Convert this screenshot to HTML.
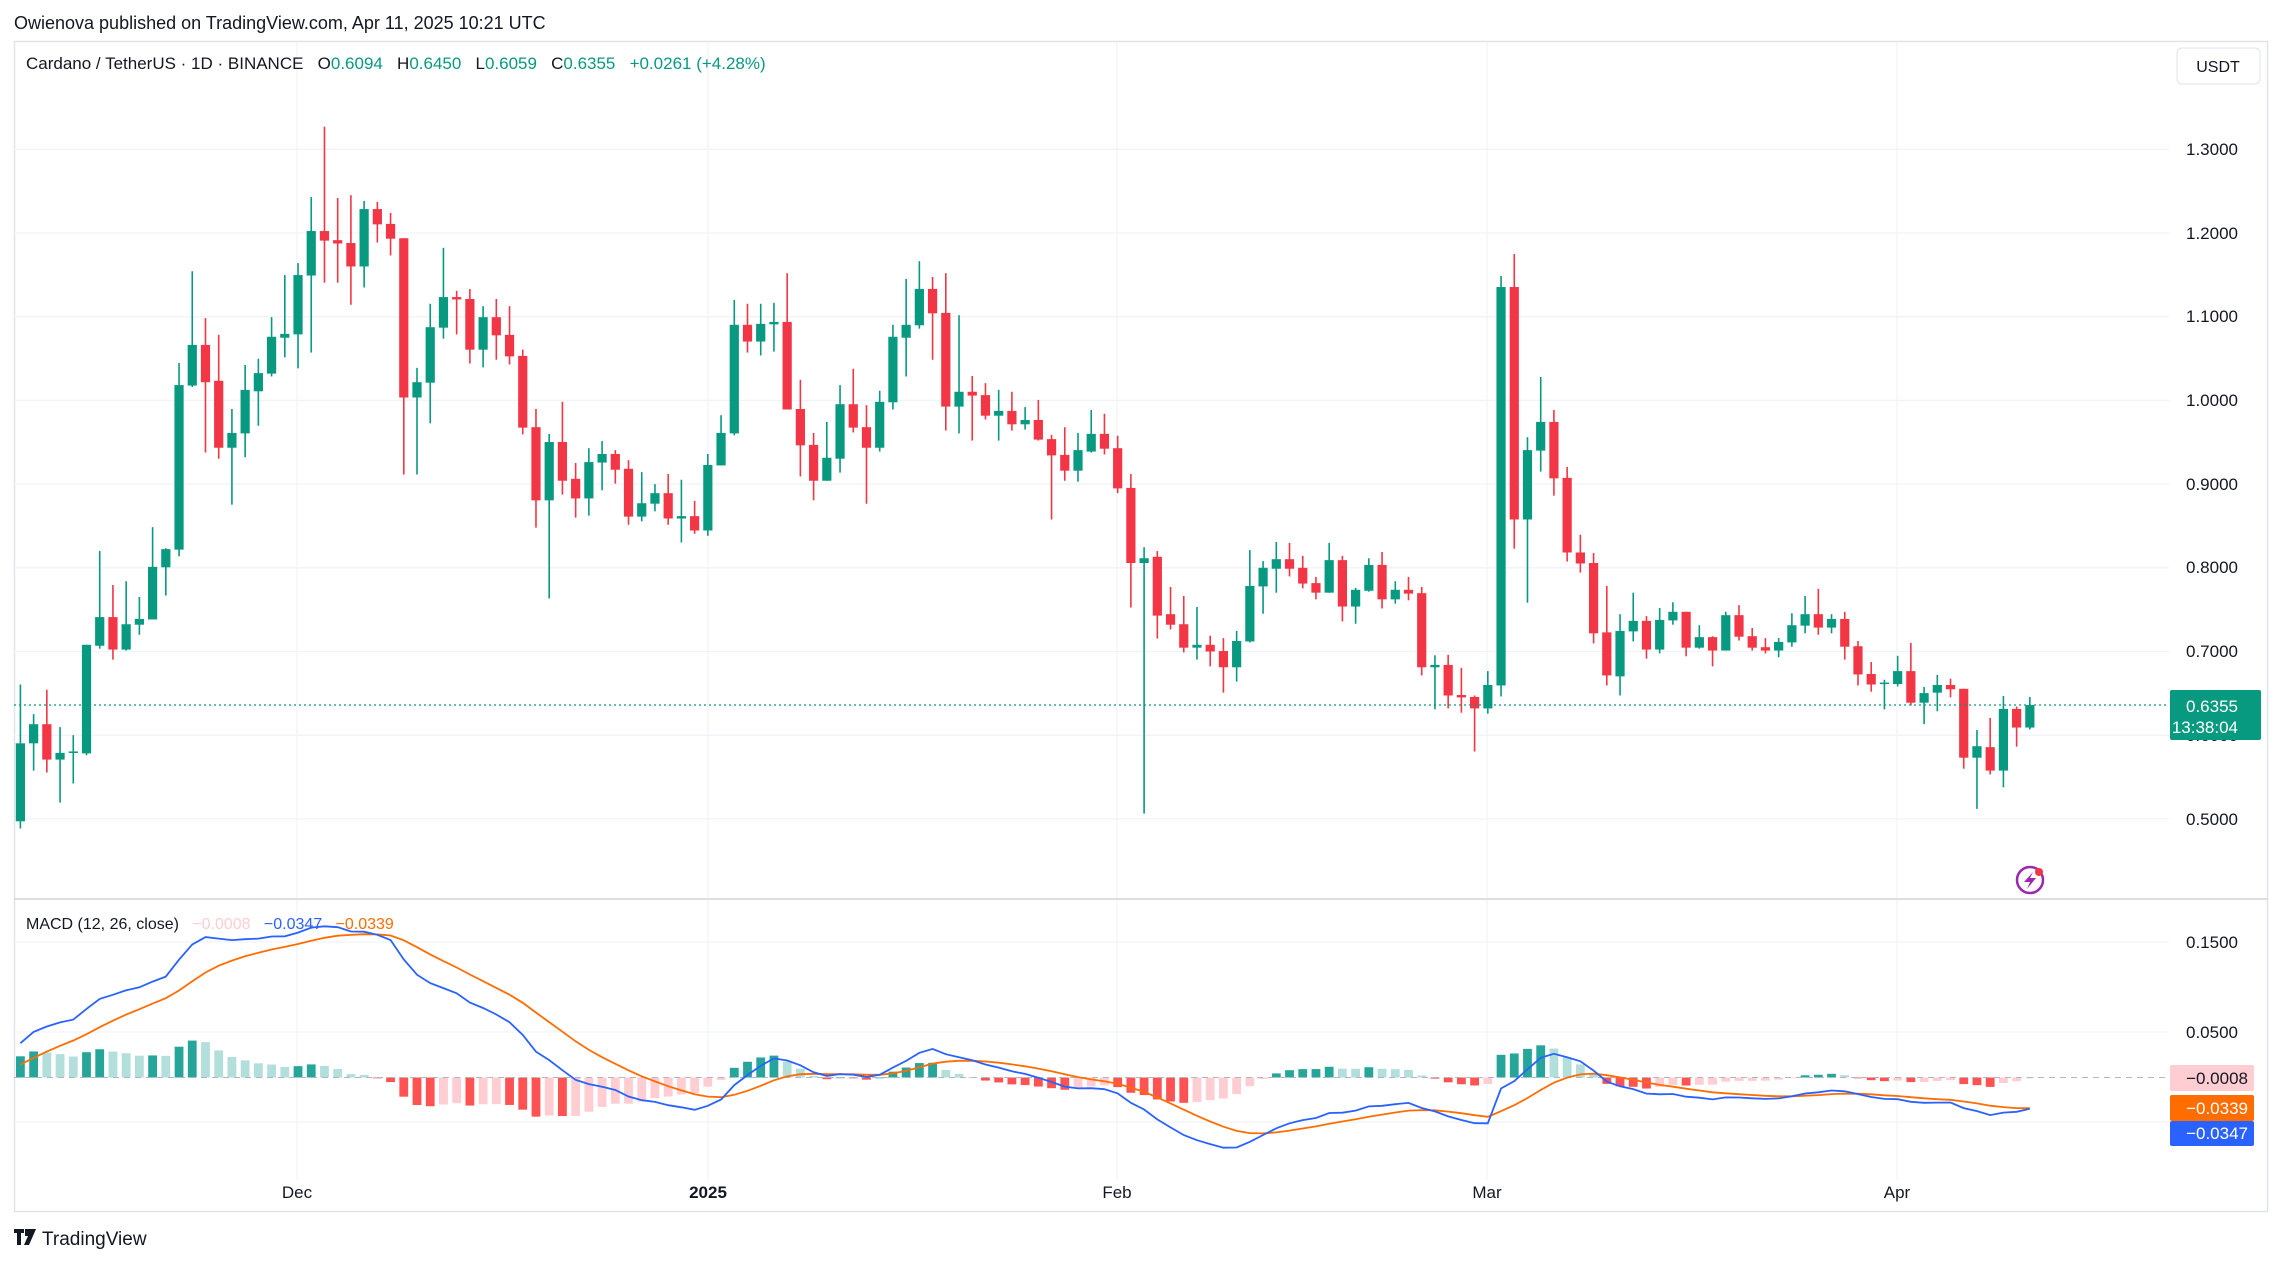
<!DOCTYPE html>
<html><head><meta charset="utf-8">
<style>
html,body{margin:0;padding:0;background:#fff;}
body{width:2283px;height:1265px;overflow:hidden;font-family:"Liberation Sans","DejaVu Sans",sans-serif;}
svg text{font-family:"Liberation Sans","DejaVu Sans",sans-serif;}
</style></head>
<body>
<svg id="s" width="2283" height="1265" viewBox="0 0 2283 1265" xmlns="http://www.w3.org/2000/svg">
<rect width="2283" height="1265" fill="#fff"/>
<text x="14" y="29" font-size="18" fill="#131722">Owienova published on TradingView.com, Apr 11, 2025 10:21 UTC</text>
<rect x="14.5" y="41.5" width="2253" height="1170" fill="none" stroke="#e0e3eb" stroke-width="1.5"/>
<g id="grid" stroke="#f0f3fa" stroke-width="1.3"></g>
<line x1="14" y1="899" x2="2268" y2="899" stroke="#d1d4dc" stroke-width="1.5"/>
<g id="hist"></g>
<line x1="14" y1="1077.5" x2="2169" y2="1077.5" stroke="#b2b5be" stroke-width="1" stroke-dasharray="6,5"/>
<g id="lines"></g>
<g id="candles"></g>
<line x1="14" y1="705" x2="2169" y2="705" stroke="#089981" stroke-width="1.2" stroke-dasharray="2,3"/>
<text x="26" y="69" font-size="17" fill="#131722" xml:space="preserve">Cardano / TetherUS · 1D · BINANCE   O<tspan fill="#089981">0.6094</tspan>   H<tspan fill="#089981">0.6450</tspan>   L<tspan fill="#089981">0.6059</tspan>   C<tspan fill="#089981">0.6355</tspan>   <tspan fill="#089981">+0.0261 (+4.28%)</tspan></text>
<text x="26" y="929" font-size="16" fill="#131722" xml:space="preserve">MACD (12, 26, close)   <tspan fill="#ffcdd2">−0.0008</tspan>   <tspan fill="#2962ff">−0.0347</tspan>   <tspan fill="#ff6d00">−0.0339</tspan></text>
<rect x="2177" y="48" width="83" height="36" rx="5" fill="#fff" stroke="#e0e3eb"/>
<text x="2218" y="72" font-size="16" fill="#131722" text-anchor="middle">USDT</text>
<g font-size="17" fill="#131722" text-anchor="end">
<text x="2238" y="155">1.3000</text><text x="2238" y="239">1.2000</text><text x="2238" y="322">1.1000</text>
<text x="2238" y="406">1.0000</text><text x="2238" y="490">0.9000</text><text x="2238" y="573">0.8000</text>
<text x="2238" y="657">0.7000</text><text x="2238" y="741">0.6000</text><text x="2238" y="825">0.5000</text>
<text x="2238" y="948">0.1500</text><text x="2238" y="1038">0.0500</text>
</g>
<rect x="2170" y="690" width="91" height="50" rx="2" fill="#089981"/>
<text x="2238" y="712" font-size="17" fill="#fff" text-anchor="end">0.6355</text>
<text x="2238" y="733" font-size="17" fill="#fff" text-anchor="end">13:38:04</text>
<rect x="2170" y="1065" width="84" height="26" rx="2" fill="#ffcdd2"/>
<text x="2248" y="1084" font-size="17" fill="#131722" text-anchor="end">−0.0008</text>
<rect x="2170" y="1095" width="84" height="26" rx="2" fill="#ff6d00"/>
<text x="2248" y="1114" font-size="17" fill="#fff" text-anchor="end">−0.0339</text>
<rect x="2170" y="1121" width="84" height="25" rx="2" fill="#2962ff"/>
<text x="2248" y="1139" font-size="17" fill="#fff" text-anchor="end">−0.0347</text>
<g font-size="17" fill="#131722" text-anchor="middle">
<text x="297" y="1198">Dec</text><text x="708" y="1198" font-weight="bold">2025</text>
<text x="1117" y="1198">Feb</text><text x="1487" y="1198">Mar</text><text x="1897" y="1198">Apr</text>
</g>
<circle cx="2030" cy="880" r="13" fill="none" stroke="#9c27b0" stroke-width="2.5"/>
<path d="M2033 872 L2024 882 L2030 882 L2027 889 L2036 878 L2030 878 Z" fill="#9c27b0"/>
<circle cx="2039" cy="872" r="4" fill="#f23645"/>
<g fill="#131722"><rect x="14" y="1229" width="10" height="4"/><rect x="17" y="1229" width="4" height="16"/><polygon points="25,1229 36,1229 29,1245 24,1245 28,1236 25,1236"/><circle cx="29" cy="1232" r="2.5"/></g>
<text x="42" y="1245" font-size="19" fill="#131722">TradingView</text>
</svg>
<script>
const C=[
['g',1345,1508,1222,1523],['g',1305,1345,1284,1402],['r',1305,1379,1233,1406],['g',1365,1379,1311,1469],['g',1362,1365,1328,1429],
['g',1139,1366,1139,1370],['g',1081,1141,943,1147],['r',1081,1149,1014,1170],['g',1096,1149,1006,1151],['g',1085,1097,1039,1118],
['g',976,1086,893,1086],['g',939,977,937,1036],['g',596,940,550,954],['g',512,597,358,600],['r',512,590,456,737],
['r',587,727,491,750],['g',696,727,646,846],['g',606,697,554,747],['g',571,609,541,681],['g',495,572,454,578],
['g',489,497,366,538],['g',366,490,341,561],['g',274,367,203,528],['r',274,294,56,382],['r',293,300,205,382],
['r',299,348,199,428],['g',228,348,211,392],['r',228,260,213,298],['r',259,290,236,325],['r',289,622,289,783],
['g',590,622,560,783],['g',475,591,426,676],['g',412,476,309,499],['r',412,417,399,490],['r',416,522,395,551],
['g',454,522,431,559],['r',454,492,416,543],['r',491,536,431,553],['r',535,685,522,699],['r',684,837,646,894],
['g',715,837,698,1042],['r',715,796,631,825],['r',792,833,759,873],
['g',757,833,728,869],['g',740,758,713,816],['r',740,773,732,802],['r',771,871,753,888],['g',843,871,778,881],
['g',822,844,803,860],['r',822,875,782,888],['g',870,875,794,925],['r',870,900,838,907],['g',763,900,740,911],
['g',696,764,659,764],['g',470,697,418,701],['r',470,505,426,528],['g',468,505,426,534],['g',464,469,424,526],
['r',464,647,362,647],['r',646,722,585,787],['r',721,796,696,837],['g',748,796,673,796],['g',636,750,596,779],
['r',636,685,562,695],['r',684,727,638,844],['g',631,727,608,735],['g',495,632,470,647],['g',470,497,374,578],
['g',395,471,337,478],['r',395,446,370,543],['r',445,641,362,691],['g',610,641,450,697],['r',610,618,577,712],
['r',617,660,592,668],['g',650,660,606,712],['r',650,678,610,691],['g',669,678,642,689],['r',669,710,627,712],
['r',709,743,700,877],['r',742,775,684,796],['g',732,775,696,798],['g',698,735,648,737],['r',698,729,656,741],
['r',728,812,702,822],['r',811,968,782,1061],
['g',958,968,935,1492],['r',955,1078,943,1126],['r',1075,1097,1018,1107],['r',1096,1145,1037,1155],['g',1139,1145,1060,1170],
['r',1139,1153,1120,1184],['r',1152,1186,1125,1239],['g',1131,1186,1110,1216],['g',1016,1132,941,1134],['g',978,1017,964,1074],
['g',960,980,924,1030],['r',960,980,926,996],['r',978,1011,953,1021],['r',1010,1030,997,1044],['g',962,1030,926,1030],
['r',962,1059,953,1090],['g',1024,1059,1020,1095],['g',972,1026,958,1028],['r',972,1044,945,1063],['g',1024,1044,1006,1053],
['r',1024,1032,997,1046],['r',1031,1186,1018,1203],['g',1181,1186,1161,1274],['r',1181,1245,1160,1272],['r',1244,1249,1187,1281],
['r',1248,1272,1245,1362],['g',1223,1272,1194,1283],['g',391,1224,368,1247],['r',391,877,322,938],['g',732,877,705,1051],
['g',673,733,579,777],['r',673,791,648,827],['r',790,946,767,965],['r',946,969,909,988],['r',968,1115,947,1136],
['r',1113,1203,1016,1224],['g',1110,1205,1075,1245],['g',1089,1111,1030,1132],['r',1089,1149,1079,1168],['g',1087,1149,1062,1157],
['g',1070,1088,1050,1097],['r',1070,1145,1070,1163],
['g',1123,1145,1098,1147],['r',1123,1151,1121,1184],['g',1077,1151,1070,1151],['r',1077,1122,1056,1130],['r',1121,1145,1104,1151],
['r',1144,1151,1125,1157],['g',1133,1151,1125,1165],['g',1098,1134,1073,1143],['g',1075,1099,1037,1115],['r',1075,1103,1022,1118],
['g',1085,1103,1075,1115],['r',1085,1143,1070,1170],['r',1142,1201,1131,1224],['r',1200,1222,1175,1237],['g',1218,1221,1212,1274],
['g',1194,1221,1162,1226],['r',1194,1260,1135,1266],['g',1240,1260,1227,1305],['g',1223,1239,1202,1278],['r',1223,1232,1210,1249],
['r',1231,1375,1231,1398],['g',1351,1375,1317,1482],['r',1353,1402,1292,1410],['g',1273,1402,1246,1437],['r',1273,1312,1268,1352],
['g',1265,1312,1248,1316]];
const NS="http://www.w3.org/2000/svg";
function el(p,t,a){const e=document.createElementNS(NS,t);for(const k in a)e.setAttribute(k,a[k]);p.appendChild(e);return e;}
const Y=z=>100+z*750/1568, X=i=>20.4+i*13.22;
const G=document.getElementById('grid');
for(let k=0;k<9;k++){const y=149.3+k*83.7;el(G,'line',{x1:14,x2:2169,y1:y,y2:y});}
[942,1032,1122].forEach(y=>el(G,'line',{x1:14,x2:2169,y1:y,y2:y}));
[297,708,1117,1487,1897].forEach(x=>el(G,'line',{x1:x,x2:x,y1:42,y2:1180}));
const cg=document.getElementById('candles');
C.forEach((c,i)=>{const col=c[0]=='g'?'#089981':'#f23645',x=X(i);
el(cg,'rect',{x:x-0.8,y:Y(c[3]),width:1.6,height:Math.max(1,Y(c[4])-Y(c[3])),fill:col});
el(cg,'rect',{x:x-4.6,y:Y(c[1]),width:9.2,height:Math.max(1.5,Y(c[2])-Y(c[1])),fill:col});});
const P=z=>1.3-(z-103)/1750;
let closes=[];for(let k=0;k<60;k++)closes.push(0.34);
closes.push(0.33,0.36,0.38,0.41,0.44,P(1508));
const pad=closes.length;
C.forEach(c=>closes.push(P(c[0]=='g'?c[1]:c[2])));
function ema(a,n){const k=2/(n+1);let r=[a[0]];for(let i=1;i<a.length;i++)r.push(a[i]*k+r[i-1]*(1-k));return r;}
const e12=ema(closes,12),e26=ema(closes,26),m=e12.map((v,i)=>v-e26[i]),sg=ema(m,9);
const MY=v=>1077.5-v*904;
const hg=document.getElementById('hist');let mp='',sp='';
for(let i=0;i<C.length;i++){const j=i+pad,h=m[j]-sg[j],hp=m[j-1]-sg[j-1];
let col=h>=0?(h>=hp?'#26a69a':'#b2dfdb'):(h<=hp?'#ff5252':'#ffcdd2');
const y0=MY(0),y1=MY(h);el(hg,'rect',{x:X(i)-4.4,y:Math.min(y0,y1),width:8.8,height:Math.max(0.8,Math.abs(y1-y0)),fill:col});
mp+=(i?'L':'M')+X(i).toFixed(1)+' '+MY(m[j]).toFixed(1);sp+=(i?'L':'M')+X(i).toFixed(1)+' '+MY(sg[j]).toFixed(1);}
const lg=document.getElementById('lines');
el(lg,'path',{d:sp,fill:'none',stroke:'#ff6d00','stroke-width':1.8});
el(lg,'path',{d:mp,fill:'none',stroke:'#2962ff','stroke-width':1.8});
</script>
</body></html>
